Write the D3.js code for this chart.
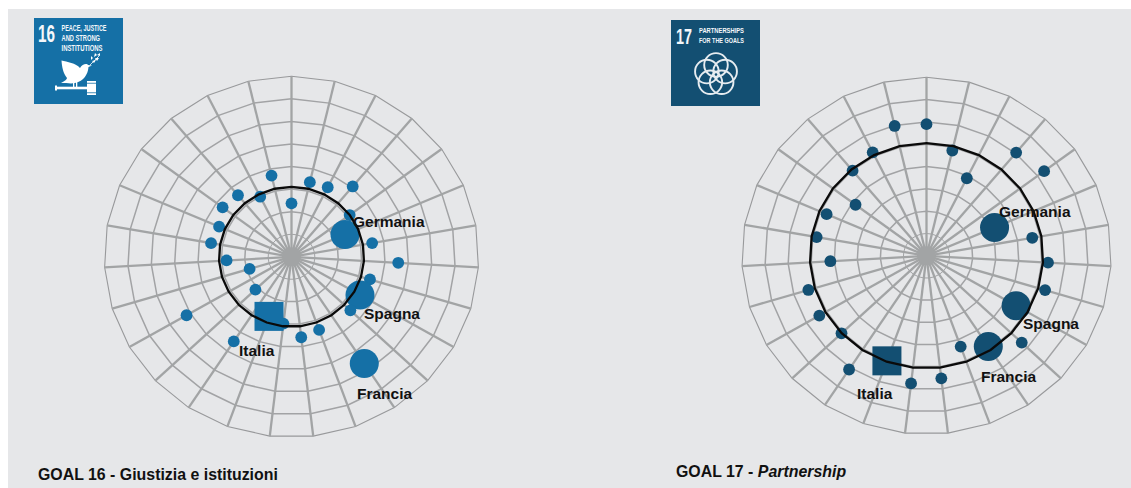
<!DOCTYPE html>
<html><head><meta charset="utf-8">
<script src="https://cdn.jsdelivr.net/npm/d3@7"></script>
<style>
html,body{margin:0;padding:0;background:#fff;overflow:hidden}
svg{display:block;font-family:"Liberation Sans",Arial,sans-serif}
</style></head><body><svg id="c" width="1131" height="488"></svg>
<script>
const countryLabels = ["Germania","Spagna","Francia","Italia"];
const goal16Title = ["GOAL 16 - ","Giustizia e istituzioni"];
const goal17Title = ["GOAL 17 - ","Partnership"];
const goal16Values = [2.37,3.40,3.45,4.07,3.10,2.49,3.50,4.57,3.50,3.38,3.46,5.66,3.45,3.59,2.98,2.81,4.49,2.12,5.18,1.87,2.78,3.49,3.37,3.67,3.56,2.98,3.70];
const goal17Values = [5.90,4.85,3.89,6.04,6.35,3.21,4.65,5.27,5.36,4.48,5.67,4.87,4.33,5.53,5.76,5.01,6.10,5.06,5.36,5.34,4.17,4.83,4.71,3.83,4.98,5.19,5.98];
const goal16Average = 3.10;
const goal17Average = 5.05;
const highlighted = {5:"Germania",9:"Spagna",11:"Francia",15:"Italia"};
const ringLevels = [1,2,3,4,5,6,7,8];

const svg = d3.select("#c");
svg.append("rect").attr("x",8).attr("y",9).attr("width",1123).attr("height",479).attr("fill","#e6e7e9");

function radar(o){
  const g = svg.append("g");
  const n = o.values.length;
  const ang = d3.scaleLinear().domain([0,n]).range([0,2*Math.PI]);
  const ry = d3.scaleLinear().domain([0,8]).range([0,o.ry]);
  const pt = (i,v)=>{const a=ang(i),r=ry(v);return [o.cx+r*o.aspect*Math.sin(a),o.cy-r*Math.cos(a)];};
  const idx = d3.range(n);
  const poly = d3.line().curve(d3.curveLinearClosed);
  ringLevels.forEach(l=>g.append("path").attr("d",poly(idx.map(i=>pt(i,l))))
    .attr("fill","none").attr("stroke",l===8?"#98999b":"#a2a3a5").attr("stroke-width",l===8?1.1:(l===1?1:1.5)));
  idx.forEach(i=>{const p=pt(i,8);
    g.append("line").attr("x1",o.cx).attr("y1",o.cy).attr("x2",p[0]).attr("y2",p[1])
     .attr("stroke","#a2a4a5").attr("stroke-width",2.3);});
  g.append("circle").attr("cx",o.cx).attr("cy",o.cy).attr("r",9.5).attr("fill","#a2a4a5");
  idx.forEach(i=>{
    const p=pt(i,o.values[i]), name=highlighted[i];
    if(name==="Italia"){
      g.append("rect").attr("x",p[0]-14.5).attr("y",p[1]-14.5).attr("width",29).attr("height",29).attr("fill",o.color);
    } else {
      g.append("circle").attr("cx",p[0]).attr("cy",p[1]).attr("r",name?14.5:5.9).attr("fill",o.color);
    }
  });
  g.append("path").attr("d",poly(idx.map(i=>pt(i,o.avg)))).attr("fill","none").attr("stroke","#0a0a0a").attr("stroke-width",2.3);
  o.labels.forEach(l=>g.append("text").attr("x",l[1]).attr("y",l[2]).text(l[0])
     .attr("font-size",15.5).attr("font-weight",700).attr("fill","#111"));
  const t=svg.append("text").attr("x",o.tx).attr("y",o.ty).attr("font-size",15.9).attr("font-weight",700).attr("fill","#111");
  t.append("tspan").text(o.title[0]);
  t.append("tspan").text(o.title[1]).attr("font-style",o.italic?"italic":"normal");
}
radar({cx:291.5,cy:256.8,ry:180.5,aspect:1.037,values:goal16Values,avg:goal16Average,color:"#1570a6",
  labels:[[countryLabels[0],353,227],[countryLabels[1],364,319],[countryLabels[2],357,399],[countryLabels[3],239,356]],
  title:goal16Title,italic:false,tx:38,ty:480});
radar({cx:926.5,cy:255.8,ry:178.5,aspect:1.035,values:goal17Values,avg:goal17Average,color:"#134f72",
  labels:[[countryLabels[0],999,217],[countryLabels[1],1023,329],[countryLabels[2],981,382],[countryLabels[3],857,399]],
  title:goal17Title,italic:true,tx:676,ty:477});

// SDG icons
function cond(g,s,x,y,w,size,extra){
  g.append("text").attr("x",x).attr("y",y).attr("font-size",size).attr("fill","#f4f7fa").attr("font-weight",extra||400)
   .attr("textLength",w).attr("lengthAdjust","spacingAndGlyphs").text(s);
}
const i16=svg.append("g").attr("transform","translate(34,18)");
i16.append("rect").attr("width",89).attr("height",86).attr("fill","#1570a6");
cond(i16,"16",4,24,17,23,700);
cond(i16,"PEACE, JUSTICE",27.5,13,45,8.6,700);
cond(i16,"AND STRONG",27.5,23,38.5,8.6,700);
cond(i16,"INSTITUTIONS",27.5,33,41,8.6,700);
i16.append("path").attr("fill","#fff").attr("d","M27.5 42.5 C33 44 42 45 46 50 C48 46 53 45 54 47 L58 47.5 L54.5 49 C54 56 50 63 41 65 C37 66 33 65 27 65 C31 63 33 61 33 60 C29 55 28 49 27.5 42.5Z");
i16.append("path").attr("fill","none").attr("stroke","#fff").attr("stroke-width",.8).attr("d","M56 47 L65 38");
i16.append("path").attr("fill","#fff").attr("d","M58 43 l4 -1 l-2 3z M61 40 l4 0 l-2 3z M57 42 l0 -4 l2 2z M60 39 l1 -4 l2 2z M63 37 l3 -2 l0 3z");
i16.append("rect").attr("x",22).attr("y",68.7).attr("width",32).attr("height",2.6).attr("fill","#fff");
i16.append("rect").attr("x",21).attr("y",67.5).attr("width",2).attr("height",5).attr("fill","#fff");
i16.append("rect").attr("x",53).attr("y",63).attr("width",9).attr("height",1.8).attr("fill","#fff");
i16.append("rect").attr("x",53).attr("y",65.6).attr("width",9).attr("height",8.8).attr("fill","#fff");
i16.append("rect").attr("x",53).attr("y",75.2).attr("width",9).attr("height",1.8).attr("fill","#fff");
i16.append("rect").attr("x",39).attr("y",64).attr("width",1.3).attr("height",5).attr("fill","#fff");
i16.append("rect").attr("x",42).attr("y",64).attr("width",1.3).attr("height",5).attr("fill","#fff");

const i17=svg.append("g").attr("transform","translate(671,20)");
i17.append("rect").attr("width",89).attr("height",86).attr("fill","#134f72");
cond(i17,"17",5,24,16,22,700);
cond(i17,"PARTNERSHIPS",28,12.7,45,8,700);
cond(i17,"FOR THE GOALS",28,23,45,8,700);
d3.range(5).forEach(k=>{
  const a=k*2*Math.PI/5;
  i17.append("circle").attr("cx",45+9.6*Math.sin(a)).attr("cy",54.5-9.6*Math.cos(a)).attr("r",11.8)
    .attr("fill","none").attr("stroke","#e6ecf0").attr("stroke-width",1.9);
});
</script></body></html>
